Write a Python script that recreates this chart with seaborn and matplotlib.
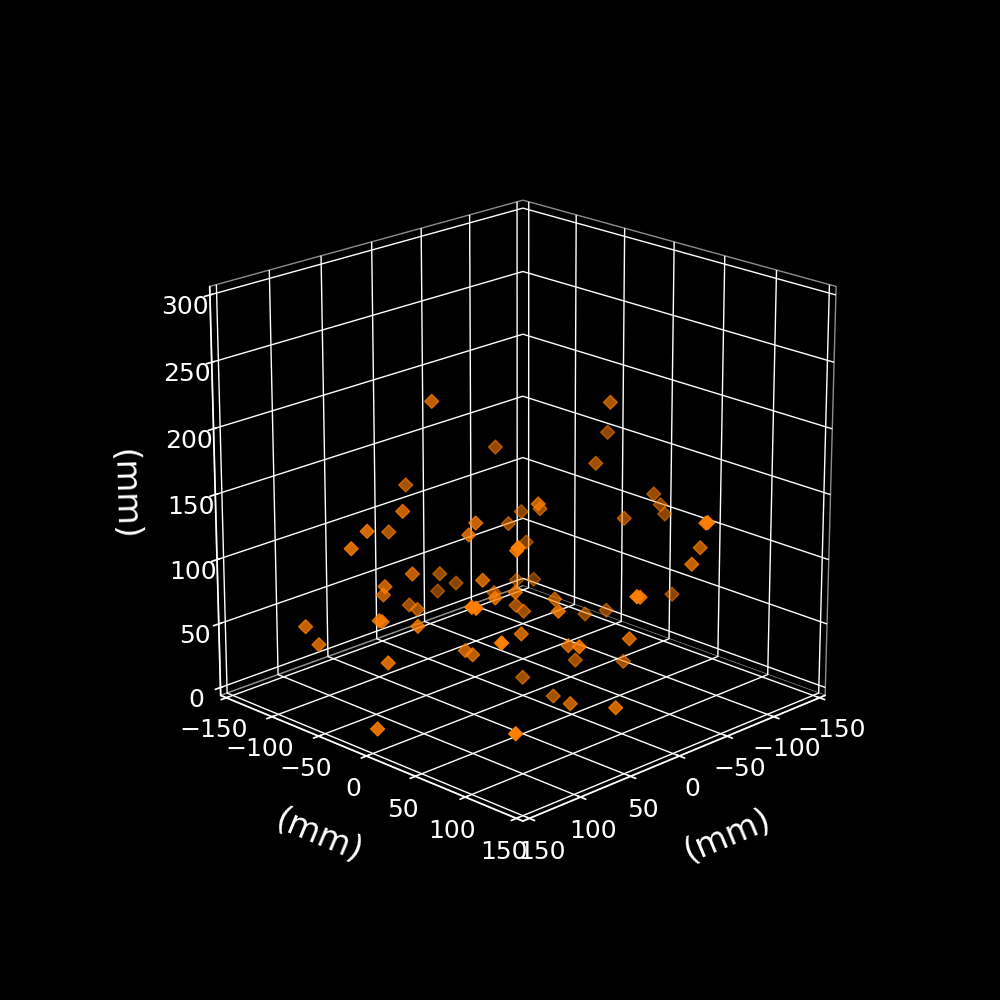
import matplotlib
matplotlib.use('Agg')
import matplotlib.pyplot as plt
import seaborn as sns

# point positions in mm
x_mm = [60.6,-40.7,32.8,87.8,132.2,53.9,140.2,51.2,54.7,-47.4,-84.1,71.1,-11.3,-49.3,47.8,85.1,71.5,-51.7,17.0,27.4,-39.8,41.5,31.3,-38.9,-42.9,147.1,147.5,137.6,131.0,114.7,113.3,95.3,122.5,44.4,40.7,147.7,147.5,143.5,28.3,-59.4,-114.3,-80.2,-123.3,-147.5,-147.3,-108.0,-36.5,-35.6,-90.5,-57.6,19.8,-51.4,-99.3,142.2,73.1,-109.1,-118.3,-44.0,37.3,-103.0,-129.6,34.2,-3.4,-146.5,-8.2,42.0,-26.5,-62.5,-85.1,-9.9,-0.6,0.8,-4.5]
y_mm = [-30.6,-69.3,-87.8,-32.8,-22.2,-83.9,-30.2,3.8,0.3,-62.6,-85.9,-41.1,-98.7,-120.7,7.2,-55.1,-71.5,-143.3,-102.0,-82.4,-70.2,13.5,23.7,-46.1,-42.1,97.9,102.5,-82.6,-76.0,-29.7,-28.3,-10.3,-12.5,-14.4,-10.7,127.3,2.5,136.5,26.7,29.4,-25.7,-4.8,13.3,-2.5,2.3,-2.0,146.5,145.6,90.5,112.6,35.2,-33.6,-95.7,137.8,66.9,-115.9,-106.7,-11.0,72.7,-37.0,-40.4,145.8,113.4,11.5,38.2,98.0,81.5,-7.5,20.1,-10.1,30.6,49.2,89.5]
z_mm = [227.9,158.9,143.3,151.5,150.9,113.4,137.9,142.7,133.6,98.8,92.6,97.1,59.1,35.2,99.1,87.3,72.6,21.8,41.1,46.0,44.0,85.5,89.9,40.8,36.1,131.4,132.1,63.4,49.5,76.5,75.7,72.2,51.3,37.7,34.5,113.8,12.6,48.5,57.8,212.8,163.0,152.5,122.2,103.4,97.3,103.0,157.4,157.1,109.2,111.3,157.1,117.1,61.6,184.2,144.5,22.6,23.2,54.2,90.7,18.5,13.1,121.1,101.3,35.8,41.6,72.3,54.1,1.4,1.8,2.2,2.2,2.1,9.4]
# how strong each marker looks against the black
shade = [0.74,0.59,0.65,0.77,0.83,0.68,0.83,0.77,0.77,0.59,0.54,0.74,0.59,0.54,0.77,0.74,0.71,0.51,0.62,0.65,0.59,0.77,0.77,0.62,0.62,0.97,0.97,0.77,0.77,0.80,0.80,0.80,0.83,0.74,0.74,1.00,0.88,1.00,0.77,0.68,0.56,0.62,0.59,0.54,0.54,0.59,0.94,0.88,0.71,0.77,0.77,0.62,0.51,1.00,0.85,0.48,0.48,0.65,0.83,0.56,0.54,0.97,0.83,0.54,0.74,0.85,0.77,0.62,0.62,0.62,0.65,0.74,0.80]

xy_ticks = [-150, -100, -50, 0, 50, 100, 150]
z_ticks = [0, 50, 100, 150, 200, 250, 300]

sns.set_theme(style='dark')
plt.style.use('dark_background')
orange = sns.color_palette(['#ff7f00'])[0]

fig = plt.figure(figsize=(10, 10), dpi=100)
ax = fig.add_subplot(projection='3d')
ax.view_init(elev=20, azim=45)
ax.set_box_aspect((1, 1, 1), zoom=0.95)

# 1/48 margin round the ticks, so the outer grid lines sit just inside the box
ax.set_xlim(-156.25, 156.25)
ax.set_ylim(-156.25, 156.25)
ax.set_zlim(-6.25, 306.25)
ax.set_xticks(xy_ticks)
ax.set_yticks(xy_ticks)
ax.set_zticks(z_ticks)
ax.tick_params(labelsize=18)

for axis in (ax.xaxis, ax.yaxis, ax.zaxis):
    axis.set_rotate_label(True)
    axis.set_pane_color((0, 0, 0, 1))
    axis.pane.set_edgecolor('#8c8c8c')

ax.set_xlabel('(mm)', fontsize=24, labelpad=22)
ax.set_ylabel('(mm)', fontsize=24, labelpad=22)
ax.set_zlabel('(mm)', fontsize=24, labelpad=22)

colors = [(*orange, s) for s in shade]
ax.scatter(x_mm, y_mm, z_mm, marker='D', s=50, c=colors, depthshade=False)

fig.savefig('out.png', dpi=100)
